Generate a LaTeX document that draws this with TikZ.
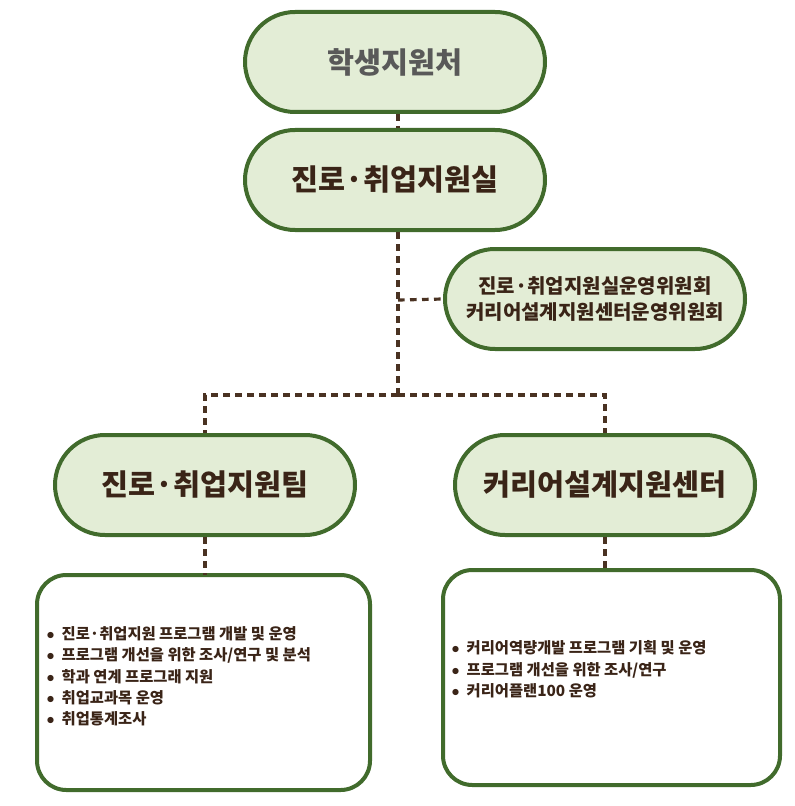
\documentclass[tikz,border=0pt]{standalone}
\usepackage{fontspec}
\setmainfont{Noto Sans CJK KR}
\usetikzlibrary{positioning}
\definecolor{pillfill}{HTML}{E3EDD6}
\definecolor{pillline}{HTML}{416B2C}
\definecolor{ink}{HTML}{3A2417}
\definecolor{link}{HTML}{4A3222}
\tikzset{
  pill/.style={draw=pillline, line width=3pt, fill=pillfill, rounded corners=37.5pt,
    minimum width=225pt, minimum height=75pt, text=ink, font=\bfseries\fontsize{22}{26}\selectfont, align=center},
  listbox/.style={text=ink, font=\bfseries\fontsize{11.5}{16}\selectfont, align=left, anchor=north west},
  joint/.style={draw=link, line width=2.4pt, dash pattern=on 5pt off 4pt}
}
\begin{document}
\begin{tikzpicture}[x=0.75pt,y=-0.75pt]
  \useasboundingbox (0,0) rectangle (794,806);

  % pills
  \node[pill, text=black!65, font=\bfseries\fontsize{22}{26}\selectfont] (office) at (395,62) {학생지원처};
  \node[pill] (center) at (395,180) {진로·취업지원실};
  \node[pill, font=\bfseries\fontsize{15}{20}\selectfont] (board) at (595,299)
    {진로·취업지원실운영위원회\\커리어설계지원센터운영위원회};
  \node[pill] (team) at (205,485) {진로·취업지원팀};
  \node[pill] (career) at (605,485) {커리어설계지원센터};

  % task boxes
  \draw[pillline, line width=3pt, fill=white, rounded corners=22pt] (37,575) rectangle (370,790);
  \node[listbox] (teamtasks) at (42,622) {%
    $\bullet$\ \ 진로·취업지원 프로그램 개발 및 운영\\
    $\bullet$\ \ 프로그램 개선을 위한 조사/연구 및 분석\\
    $\bullet$\ \ 학과 연계 프로그래 지원\\
    $\bullet$\ \ 취업교과목 운영\\
    $\bullet$\ \ 취업통계조사};
  \draw[pillline, line width=3pt, fill=white, rounded corners=22pt] (443,570) rectangle (780,785);
  \node[listbox] (careertasks) at (447,636) {%
    $\bullet$\ \ 커리어역량개발 프로그램 기획 및 운영\\
    $\bullet$\ \ 프로그램 개선을 위한 조사/연구\\
    $\bullet$\ \ 커리어플랜100 운영};
  \coordinate (teambox) at (205,575);
  \coordinate (careerbox) at (605,570);

  % connectors
  \coordinate (split) at (398,395);
  \coordinate (branch) at (398,300);
  \draw[joint] (office.south -| split) -- (center.north -| split);
  \draw[joint] (center.south -| split) -- (split);
  \draw[joint] (branch) -- (board.west);
  \draw[joint] (split) -| (team.north);
  \draw[joint] (split) -| (career.north);
  \draw[joint] (team.south) -- (teambox);
  \draw[joint] (career.south) -- (careerbox);
\end{tikzpicture}
\end{document}
